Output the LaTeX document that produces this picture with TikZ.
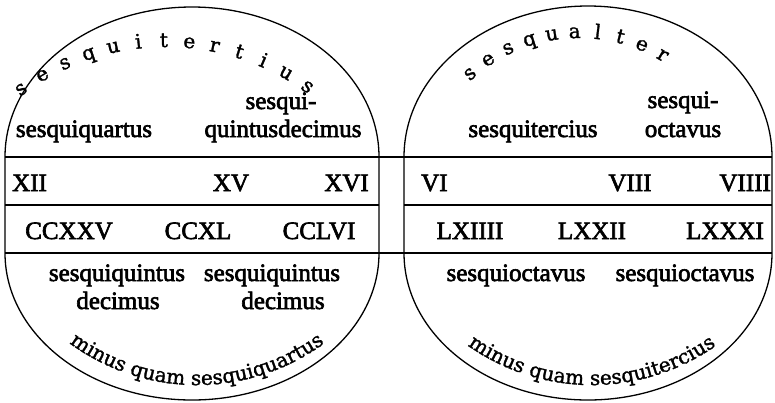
\documentclass[tikz,border=0pt]{standalone}
\usepackage{fontspec}
\setmainfont{Liberation Serif}[FakeBold=2.5]
\newfontfamily\arcfont{DejaVu Serif}[FakeBold=1.5]
\usetikzlibrary{decorations.text}
\tikzset{
  outline/.style={line width=1.3pt},
  rule/.style={line width=1.2pt},
  cell/.style={font=\fontsize{25}{29}\selectfont, inner sep=0pt, anchor=base},
  arcletter/.style={font=\arcfont\fontsize{20}{20}\selectfont, inner sep=0pt, anchor=base},
}
\begin{document}
\begin{tikzpicture}[x=1pt,y=-1pt]
\useasboundingbox (0,0) rectangle (775,402);
% outlines
\draw[outline] (5,157) arc[start angle=180,end angle=360,x radius=187,y radius=150]
  -- (379,253) arc[start angle=0,end angle=180,x radius=187,y radius=147] -- cycle;
\draw[outline] (404,157) arc[start angle=180,end angle=360,x radius=184,y radius=151]
  -- (772,253) arc[start angle=0,end angle=180,x radius=184,y radius=147] -- cycle;
% rules
\draw[rule] (5,157) -- (772,157);
\draw[rule] (5,253) -- (772,253);
\draw[rule] (5,205) -- (379,205);
\draw[rule] (404,205) -- (772,205);
% left texts
\node[cell] (l1) at (281,109) {sesqui-};
\node[cell] (l2) at (283,137) {quintusdecimus};
\node[cell] (l3) at (84,137) {sesquiquartus};
\node[cell,anchor=base west] (l4) at (12,191) {XII};
\node[cell] (l5) at (231,191) {XV};
\node[cell,anchor=base east] (l6) at (369,191) {XVI};
\node[cell] (l7) at (69,239) {CCXXV};
\node[cell] (l8) at (198,239) {CCXL};
\node[cell] (l9) at (319,239) {CCLVI};
\node[cell] (l10) at (117,281) {sesquiquintus};
\node[cell] (l11) at (118,309) {decimus};
\node[cell] (l12) at (272,281) {sesquiquintus};
\node[cell] (l13) at (283,309) {decimus};
% right texts
\node[cell] (r1) at (683,108) {sesqui-};
\node[cell] (r2) at (683,137) {octavus};
\node[cell] (r3) at (533,137) {sesquitercius};
\node[cell,anchor=base west] (r4) at (421,191) {VI};
\node[cell] (r5) at (630,191) {VIII};
\node[cell,anchor=base east] (r6) at (771,191) {VIIII};
\node[cell] (r7) at (470,239) {LXIIII};
\node[cell] (r8) at (592,239) {LXXII};
\node[cell] (r9) at (725,239) {LXXXI};
\node[cell] (r10) at (516,281) {sesquioctavus};
\node[cell] (r11) at (685,281) {sesquioctavus};
% top arc letters
\foreach \ch [count=\i from 0] in {s,e,s,q,u,i,t,e,r,t,i,u,s} {
  \pgfmathsetmacro\ang{126.5-6.0*\i}
  \node[arcletter, rotate=\ang-90] (tl\i) at ({166+238*cos(\ang)},{285-238*sin(\ang)}) {\ch};
}
\foreach \ch [count=\i from 0] in {s,e,s,q,u,a,l,t,e,r} {
  \pgfmathsetmacro\ang{131.5-8*\i}
  \node[arcletter, rotate=\ang-90] (tr\i) at ({579+159*cos(\ang)},{197-159*sin(\ang)}) {\ch};
}
% bottom arc texts
\path[decorate, decoration={text along path, text align=center,
  text={|\arcfont\fontsize{20}{20}\selectfont|minus quam sesquiquartus}}]
  ({197+215*cos(200)},{170-215*sin(200)}) arc[start angle=160,end angle=20,radius=215];
\path[decorate, decoration={text along path, text align=center,
  text={|\arcfont\fontsize{20}{20}\selectfont|minus quam sesquitercius}}]
  ({592+215*cos(200)},{170-215*sin(200)}) arc[start angle=160,end angle=20,radius=215];
\end{tikzpicture}
\end{document}
